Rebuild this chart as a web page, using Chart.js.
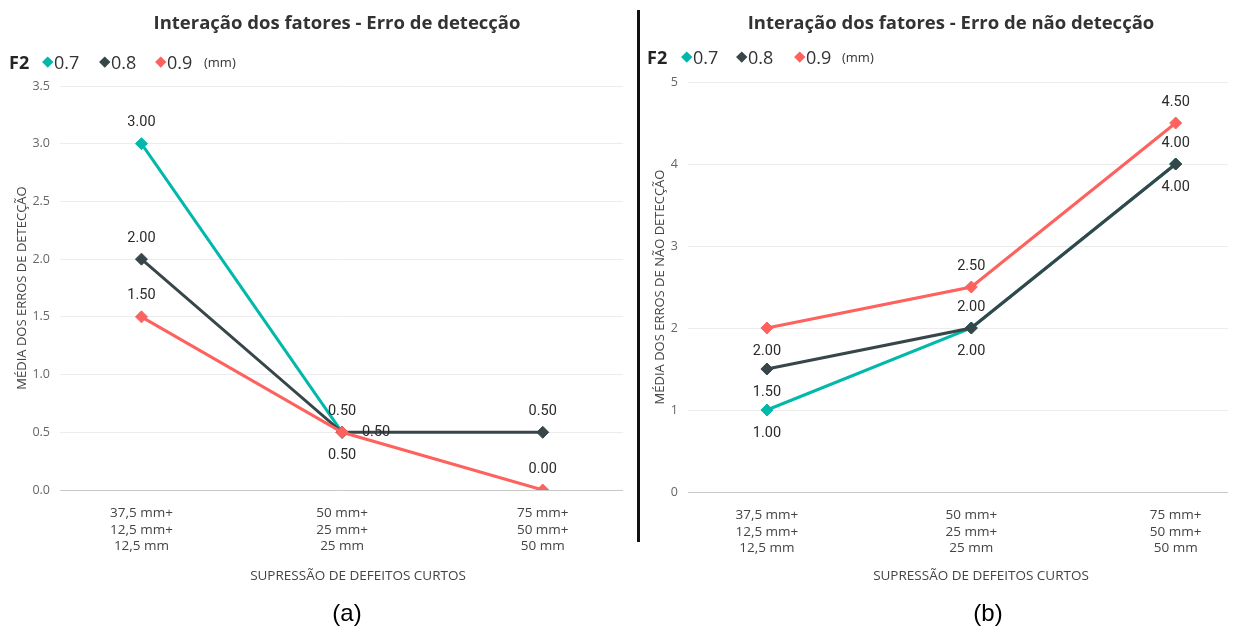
<!DOCTYPE html>
<html lang="pt">
<head>
<meta charset="utf-8">
<title>Interação dos fatores</title>
<script src="https://cdn.jsdelivr.net/npm/chart.js@4/dist/chart.umd.min.js"></script>
<style>
  html, body { margin: 0; padding: 0; background: #fff; }
  body { width: 1235px; height: 633px; position: relative; overflow: hidden; font-family: "Open Sans", "Noto Sans", sans-serif; }
  canvas { position: absolute; top: 0; }
  #chartA { left: 0; }
  #chartB { left: 640px; }
  .txt { position: absolute; white-space: nowrap; transform: translate(-50%, -50%); }
  .title { font-weight: 700; font-size: 18.5px; color: #333; }
  .xtitle { font-size: 13.5px; color: #444; }
  .caption { font-family: "Liberation Sans", Arial, sans-serif; font-size: 24px; color: #000; }
  .legend { position: absolute; height: 24px; }
  .legend span { position: absolute; top: 0; line-height: 24px; white-space: nowrap; }
  .legend .head { font-weight: 700; font-size: 18px; color: #252423; }
  .legend .item { font-size: 18px; color: #333; }
  .legend .unit { font-size: 13px; color: #333; }
  .legend .mark { width: 7.5px; height: 7.5px; top: 8px; transform: rotate(45deg); }
  .divider { position: absolute; left: 637px; top: 10px; width: 3px; height: 532px; background: #111; }
</style>
</head>
<body>
<canvas id="chartA" width="630" height="600"></canvas>
<canvas id="chartB" width="595" height="600"></canvas>

<div class="txt title" style="left:337px; top:21px;">Interação dos fatores - Erro de detecção</div>
<div class="txt title" style="left:951px; top:21px;">Interação dos fatores - Erro de não detecção</div>

<div class="legend" id="legendA" style="left:0; top:50px;"></div>
<div class="legend" id="legendB" style="left:640px; top:45px;"></div>

<div class="txt xtitle" style="left:358px; top:575px;">SUPRESSÃO DE DEFEITOS CURTOS</div>
<div class="txt xtitle" style="left:981px; top:575px;">SUPRESSÃO DE DEFEITOS CURTOS</div>

<div class="txt caption" style="left:347px; top:613px;">(a)</div>
<div class="txt caption" style="left:988px; top:613px;">(b)</div>

<div class="divider"></div>

<script>
// Categories on the x axis (suppression of short defects)
const categories = [
  ['37,5 mm+', '12,5 mm+', '12,5 mm'],
  ['50 mm+', '25 mm+', '25 mm'],
  ['75 mm+', '50 mm+', '50 mm']
];

// F2 levels (mm)
const seriesNames = ['0.7', '0.8', '0.9'];
const seriesColors = ['#01B8AA', '#374649', '#FD625E'];

// (a) mean detection errors
const detect07 = [3.0, 0.5, null];
const detect08 = [2.0, 0.5, 0.5];
const detect09 = [1.5, 0.5, 0.0];

// (b) mean non-detection errors
const miss07 = [1.0, 2.0, 4.0];
const miss08 = [1.5, 2.0, 4.0];
const miss09 = [2.0, 2.5, 4.5];

// y-axis ticks
const ticksA = [0, 0.5, 1, 1.5, 2, 2.5, 3, 3.5];
const ticksB = [0, 1, 2, 3, 4, 5];

// where each value label sits relative to its marker
const labelPosA = [
  ['above', 'above', null],
  ['above', 'right', 'above'],
  ['above', 'below', 'above']
];
const labelPosB = [
  ['below', 'below', 'below'],
  ['below', 'above', 'above'],
  ['below', 'above', 'above']
];

// legends (HTML): "F2  ◆0.7  ◆0.8  ◆0.9  (mm)"
function buildLegend(el, xs) {
  let html = `<span class="head" style="left:${xs.head}px">F2</span>`;
  seriesNames.forEach((name, i) => {
    html += `<span class="mark" style="left:${xs.marks[i] - 3.75}px; background:${seriesColors[i]}"></span>`;
    html += `<span class="item" style="left:${xs.texts[i]}px">${name}</span>`;
  });
  html += `<span class="unit" style="left:${xs.unit}px">(mm)</span>`;
  el.innerHTML = html;
}
buildLegend(document.getElementById('legendA'), { head: 9, marks: [48, 105, 161], texts: [54, 111, 167], unit: 204 });
buildLegend(document.getElementById('legendB'), { head: 7, marks: [47, 102, 160], texts: [53, 108, 166], unit: 202 });

// value labels drawn next to each marker
const valueLabels = {
  id: 'valueLabels',
  afterDatasetsDraw(chart, args, opts) {
    const ctx = chart.ctx;
    ctx.save();
    ctx.font = '14.5px Roboto, "DejaVu Sans", sans-serif';
    ctx.fillStyle = '#2b2b2b';
    ctx.textAlign = 'center';
    ctx.textBaseline = 'middle';
    chart.data.datasets.forEach((ds, i) => {
      const meta = chart.getDatasetMeta(i);
      meta.data.forEach((pt, j) => {
        const v = ds.data[j] ? ds.data[j].y : null;
        const pos = opts.positions[i][j];
        if (v === null || v === undefined || !pos) return;
        let dx = 0, dy = 0;
        if (pos === 'above') dy = -21;
        else if (pos === 'below') dy = 23;
        else if (pos === 'right') dx = 34;
        ctx.fillText(v.toFixed(2), pt.x + dx, pt.y + dy);
      });
    });
    ctx.restore();
  }
};

function makeDatasets(values) {
  // drawing order: 0.7 underneath, 0.9 on top
  return values.map((data, i) => ({
    label: seriesNames[i],
    data: data.map((y, k) => ({ x: k, y: y })),
    borderColor: seriesColors[i],
    backgroundColor: seriesColors[i],
    pointBackgroundColor: seriesColors[i],
    pointBorderColor: seriesColors[i],
    borderWidth: 3,
    pointStyle: 'rectRot',
    pointRadius: 6,
    pointBorderWidth: 1,
    tension: 0,
    spanGaps: false,
    order: values.length - 1 - i
  }));
}

function makeChart(canvasId, values, opt) {
  return new Chart(document.getElementById(canvasId), {
    type: 'line',
    data: {
      labels: categories,
      datasets: makeDatasets(values)
    },
    plugins: [valueLabels],
    options: {
      responsive: false,
      animation: false,
      layout: { padding: { top: opt.top, right: opt.right, bottom: 0, left: 0 } },
      plugins: {
        legend: { display: false },
        title: { display: false },
        tooltip: { enabled: false },
        valueLabels: { positions: opt.positions }
      },
      scales: {
        x: {
          type: 'linear',
          min: opt.xMin,
          max: opt.xMax,
          afterBuildTicks: s => { s.ticks = categories.map((c, k) => ({ value: k })); },
          afterFit: s => { s.height = opt.xHeight; },
          grid: { display: false, drawTicks: false },
          border: { display: false },
          ticks: {
            autoSkip: false,
            maxRotation: 0,
            padding: 15,
            color: '#444',
            font: { family: '"Open Sans", "Noto Sans", sans-serif', size: 13.5, lineHeight: 1.23 },
            callback: v => categories[v]
          }
        },
        y: {
          min: opt.yTicks[0],
          max: opt.yTicks[opt.yTicks.length - 1],
          afterBuildTicks: s => { s.ticks = opt.yTicks.map(v => ({ value: v })); },
          afterFit: s => { s.width = opt.yWidth; },
          grid: {
            drawTicks: false,
            lineWidth: 1,
            color: c => (c.tick && c.tick.value === 0) ? '#c8c8c8' : '#ececec'
          },
          border: { display: false },
          ticks: {
            padding: 10,
            color: '#666',
            font: { family: '"Open Sans", "Noto Sans", sans-serif', size: 12.5 },
            callback: v => opt.yFormat(v)
          },
          title: {
            display: true,
            text: opt.yTitle,
            color: '#444',
            font: { family: '"Open Sans", "Noto Sans", sans-serif', size: 13 },
            padding: { top: opt.yTitlePad, bottom: 0 }
          }
        }
      }
    }
  });
}

makeChart('chartA', [detect07, detect08, detect09], {
  top: 86, right: 3, xHeight: 110, yWidth: 60,
  xMin: -0.406, xMax: 2.40,
  yTicks: ticksA, yFormat: v => v.toFixed(1),
  yTitle: 'MÉDIA DOS ERROS DE DETECÇÃO', yTitlePad: 14.2,
  positions: labelPosA
});

makeChart('chartB', [miss07, miss08, miss09], {
  top: 82, right: 0, xHeight: 108, yWidth: 48,
  xMin: -0.386, xMax: 2.256,
  yTicks: ticksB, yFormat: v => String(v),
  yTitle: 'MÉDIA DOS ERROS DE NÃO DETECÇÃO', yTitlePad: 12.2,
  positions: labelPosB
});
</script>
</body>
</html>
